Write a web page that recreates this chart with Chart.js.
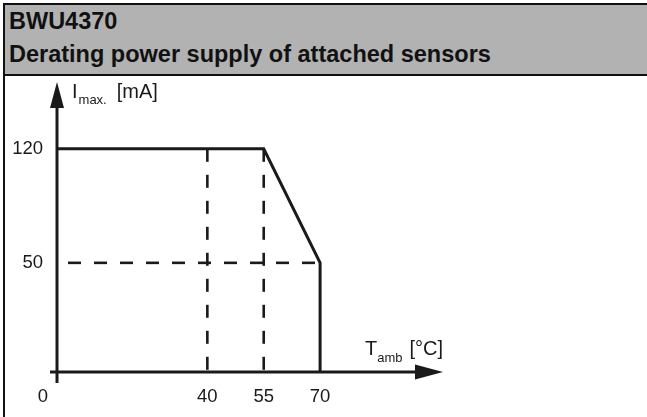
<!DOCTYPE html>
<html>
<head>
<meta charset="utf-8">
<script src="https://cdn.jsdelivr.net/npm/chart.js@4"></script>
<style>
  body { margin: 0; background: #fff; width: 647px; height: 417px; overflow: hidden; position: relative;
         font-family: Arial, "Liberation Sans", sans-serif; }
  #chart { position: absolute; left: 0; top: 0; }
  #frame { position: absolute; left: 3px; top: 3px; width: 2px; height: 414px; background: #111; }
  #head { position: absolute; left: 3px; right: 0; top: 3px; height: 69px; padding: 0 0 0 4px;
          background: #b2b2b2; border-top: 2px solid #111; border-left: 2px solid #111; border-bottom: 2px solid #111; }
  #head div { font-weight: bold; font-size: 23.5px; line-height: 33px; color: #111; white-space: nowrap; }
</style>
</head>
<body>
<canvas id="chart" width="647" height="417"></canvas>
<div id="frame"></div>
<div id="head">
  <div>BWU4370</div>
  <div>Derating power supply of attached sensors</div>
</div>
<script>
// schematic axes: the axis lines sit at the scale minimum, not at 0
const X_MIN = 0, X_MAX = 102.7;
const Y_MIN = -17, Y_MAX = 161;

const xTicks = [0, 40, 55, 70];
const yTicks = [50, 120];

// derating curve (°C, mA), last point drops to the T axis
const curveT = [0, 55, 70, 70];
const curveI = [120, 120, 50, Y_MIN];

// dashed guides
const guideT = [40, 55];
const guideI = 50;

const ink = '#1a1a1a';

const datasets = [{
    data: curveT.map((t, i) => ({ x: t, y: curveI[i] })),
    borderColor: ink,
    borderWidth: 3,
    borderJoinStyle: 'miter'
}];
guideT.forEach(t => {
    datasets.push({
        data: [{ x: t, y: 120 }, { x: t, y: Y_MIN }],
        borderColor: ink,
        borderWidth: 2.6,
        borderDash: [13, 13]
    });
});
datasets.push({
    data: [{ x: 0, y: guideI }, { x: 70, y: guideI }],
    borderColor: ink,
    borderWidth: 2.6,
    borderDash: [13, 13],
    borderDashOffset: 15
});

const axesPlugin = {
    id: 'axes',
    afterDatasetsDraw(chart) {
        const ctx = chart.ctx;
        const xs = chart.scales.x, ys = chart.scales.y;
        const ox = xs.getPixelForValue(X_MIN);
        const oy = ys.getPixelForValue(Y_MIN);
        const top = ys.getPixelForValue(Y_MAX);
        const right = xs.getPixelForValue(X_MAX);
        ctx.save();
        ctx.strokeStyle = ink;
        ctx.fillStyle = ink;
        ctx.lineWidth = 3;
        ctx.setLineDash([]);

        // y axis + arrow
        ctx.beginPath();
        ctx.moveTo(ox, oy + 11);
        ctx.lineTo(ox, top + 20);
        ctx.stroke();
        ctx.beginPath();
        ctx.moveTo(ox, top);
        ctx.lineTo(ox - 7, top + 26);
        ctx.lineTo(ox + 7, top + 26);
        ctx.closePath();
        ctx.fill();

        // x axis + arrow
        ctx.beginPath();
        ctx.moveTo(ox - 7, oy);
        ctx.lineTo(right - 20, oy);
        ctx.stroke();
        ctx.beginPath();
        ctx.moveTo(right, oy);
        ctx.lineTo(right - 28, oy - 7.5);
        ctx.lineTo(right - 28, oy + 7.5);
        ctx.closePath();
        ctx.fill();

        // tick labels
        ctx.font = '18.5px Arial, "Liberation Sans", sans-serif';
        ctx.textAlign = 'center';
        ctx.textBaseline = 'alphabetic';
        xTicks.forEach(v => {
            const px = xs.getPixelForValue(v);
            ctx.fillText(String(v), v === X_MIN ? px - 14 : px, oy + 30);
        });
        ctx.textAlign = 'right';
        ctx.textBaseline = 'middle';
        yTicks.forEach(v => {
            ctx.fillText(String(v), ox - 14, ys.getPixelForValue(v));
        });

        // axis titles with subscripts
        const big = '20px Arial, "Liberation Sans", sans-serif';
        const small = '13px Arial, "Liberation Sans", sans-serif';
        ctx.textAlign = 'left';
        ctx.textBaseline = 'alphabetic';

        let x = ox + 15;
        ctx.font = big; ctx.fillText('I', x, top + 16); x += ctx.measureText('I').width + 1;
        ctx.font = small; ctx.fillText('max.', x, top + 22); x += ctx.measureText('max.').width + 10;
        ctx.font = big; ctx.fillText('[mA]', x, top + 16);

        ctx.font = big;
        const wT = ctx.measureText('T').width, wU = ctx.measureText('[°C]').width;
        ctx.font = small;
        const wS = ctx.measureText('amb').width;
        x = right - (wT + wS + 7 + wU);
        const by = oy - 17;
        ctx.font = big; ctx.fillText('T', x, by); x += wT;
        ctx.font = small; ctx.fillText('amb', x, by + 7); x += wS + 7;
        ctx.font = big; ctx.fillText('[°C]', x, by);
        ctx.restore();
    }
};

new Chart(document.getElementById('chart'), {
    type: 'line',
    data: { datasets: datasets },
    options: {
        responsive: false,
        animation: false,
        devicePixelRatio: 1,
        layout: { padding: { left: 57, right: 204, top: 82, bottom: 45 } },
        elements: { point: { radius: 0 }, line: { tension: 0 } },
        scales: {
            x: { type: 'linear', min: X_MIN, max: X_MAX, display: false },
            y: { type: 'linear', min: Y_MIN, max: Y_MAX, display: false }
        },
        plugins: { legend: { display: false }, tooltip: { enabled: false } }
    },
    plugins: [axesPlugin]
});
</script>
</body>
</html>
